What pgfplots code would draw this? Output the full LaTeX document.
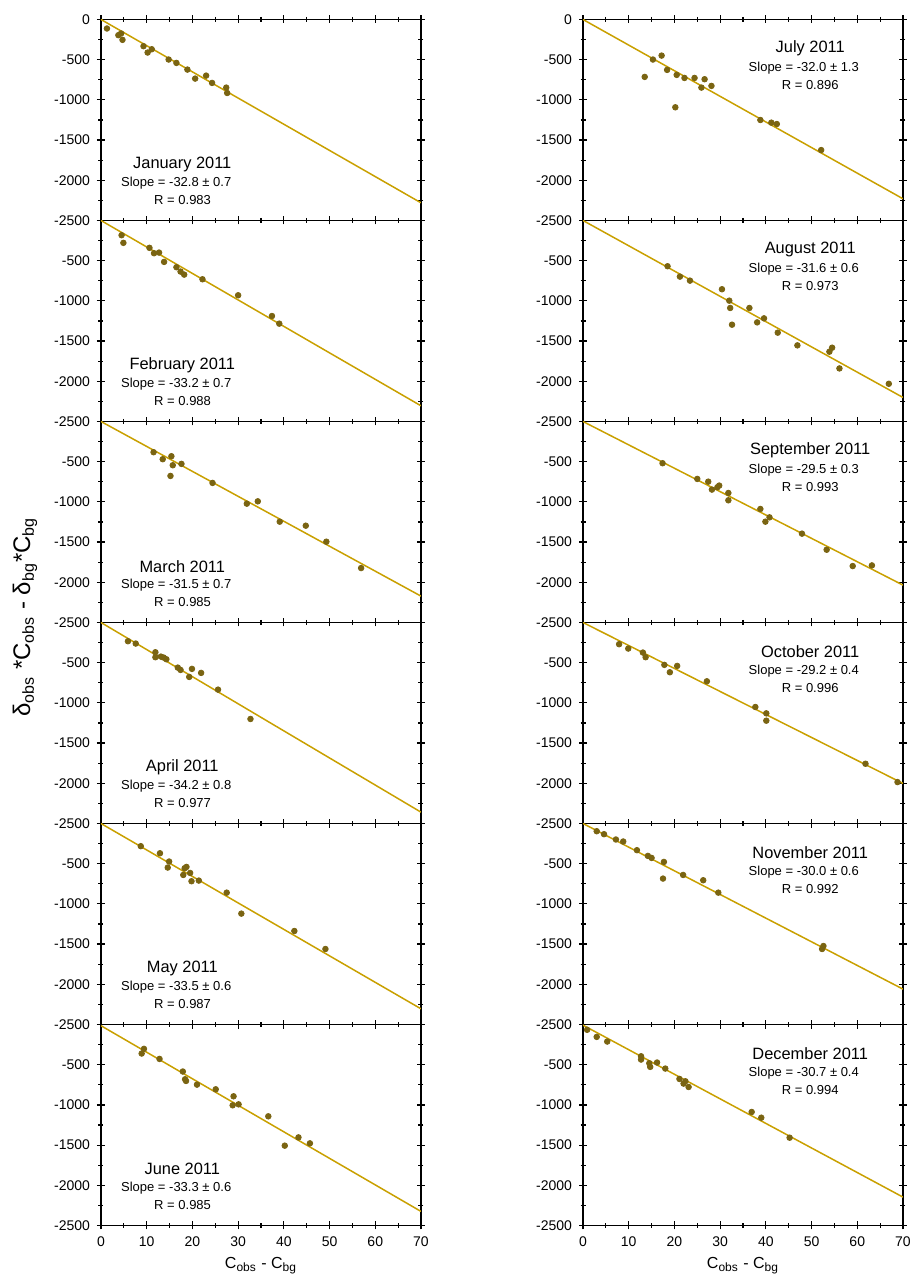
\documentclass[border=0pt]{standalone}
\usepackage{fontspec}
\setmainfont{Liberation Sans}
\usepackage{pgfplots}
\pgfplotsset{compat=1.18}

\definecolor{fitline}{RGB}{201,160,0}
\definecolor{dots}{RGB}{122,100,18}

\pgfplotsset{
  panel/.style={
    scale only axis, width=160pt, height=100.5pt,
    anchor=south west,
    xmin=0, xmax=70, ymin=-2500, ymax=0,
    xtick={0,10,...,70}, minor x tick num=1,
    ytick={-2500,-2000,...,0}, minor y tick num=1,
    xticklabels={},
    yticklabels={-2500,-2000,-1500,-1000,-500,{}},
    tick pos=both, tick align=center,
    major tick length=4pt, minor tick length=2.5pt,
    axis line style={line width=0.8pt},
    every tick/.style={black, line width=0.6pt},
    ticklabel style={font=\fontsize{7}{8}\selectfont},
    xlabel style={font=\fontsize{8}{9}\selectfont, yshift=1.5pt},
  },
  toprow/.style={yticklabels={-2500,-2000,-1500,-1000,-500,0}},
  bottomrow/.style={xticklabels={0,10,20,30,40,50,60,70},
    xlabel={C\textsubscript{obs} - C\textsubscript{bg}}},
  fit/.style={fitline, line width=0.75pt, forget plot},
  pts/.style={only marks, mark=*, mark size=1.4pt, draw=dots, fill=dots,
    mark options={draw=dots, fill=dots}},
}
\newcommand{\lefttext}[3]{%
  \node[font=\fontsize{8.2}{9}\selectfont] at (axis description cs:0.254,0.28) {#1};
  \node[font=\fontsize{6.5}{7}\selectfont] at (axis description cs:0.235,0.185) {#2};
  \node[font=\fontsize{6.5}{7}\selectfont] at (axis description cs:0.255,0.10) {#3};}
\newcommand{\righttext}[3]{%
  \node[font=\fontsize{8.2}{9}\selectfont] at (axis description cs:0.71,0.856) {#1};
  \node[font=\fontsize{6.5}{7}\selectfont] at (axis description cs:0.69,0.76) {#2};
  \node[font=\fontsize{6.5}{7}\selectfont] at (axis description cs:0.71,0.673) {#3};}

\begin{document}
\begin{tikzpicture}
\useasboundingbox (0,0) rectangle (457pt,641pt);

% left column
\begin{axis}[panel, toprow, at={(50.5pt,530.75pt)}]
\addplot[fit] coordinates {(0,0) (70,-2280)};
\addplot[pts] coordinates {(1.3,-112) (3.8,-195) (4.4,-174) (4.7,-253) (9.3,-332) (10.2,-411) (11.1,-370) (14.8,-498) (16.5,-540) (18.9,-623) (20.6,-735) (23.0,-698) (24.3,-789) (27.4,-847) (27.6,-914)};
\lefttext{January 2011}{Slope = -32.8 ± 0.7}{R = 0.983}
\end{axis}

\begin{axis}[panel, at={(50.5pt,430.25pt)}]
\addplot[fit] coordinates {(0,0) (70,-2305)};
\addplot[pts] coordinates {(4.5,-183) (4.9,-278) (10.6,-340) (11.6,-407) (12.7,-399) (13.8,-515) (16.5,-581) (17.4,-635) (18.2,-673) (22.2,-731) (30.0,-930) (37.4,-1188) (39.0,-1283)};
\lefttext{February 2011}{Slope = -33.2 ± 0.7}{R = 0.988}
\end{axis}

\begin{axis}[panel, at={(50.5pt,329.75pt)}]
\addplot[fit] coordinates {(0,0) (70,-2172)};
\addplot[pts] coordinates {(11.5,-382) (13.5,-469) (15.4,-432) (15.7,-544) (15.2,-677) (17.6,-527) (24.4,-764) (31.9,-1022) (34.3,-993) (39.1,-1246) (44.8,-1296) (49.3,-1495) (56.9,-1823)};
\lefttext{March 2011}{Slope = -31.5 ± 0.7}{R = 0.985}
\end{axis}

\begin{axis}[panel, at={(50.5pt,229.25pt)}]
\addplot[fit] coordinates {(0,0) (70,-2359)};
\addplot[pts] coordinates {(5.9,-233) (7.6,-262) (11.9,-370) (11.9,-432) (13.1,-424) (13.7,-436) (14.3,-457) (16.8,-561) (17.4,-590) (19.9,-577) (19.3,-677) (21.9,-627) (25.6,-835) (32.7,-1200)};
\lefttext{April 2011}{Slope = -34.2 ± 0.8}{R = 0.977}
\end{axis}

\begin{axis}[panel, at={(50.5pt,128.75pt)}]
\addplot[fit] coordinates {(0,0) (70,-2305)};
\addplot[pts] coordinates {(8.7,-282) (12.9,-370) (14.9,-473) (14.6,-548) (18.3,-556) (18.7,-540) (18.0,-640) (19.5,-615) (19.8,-718) (21.4,-710) (27.5,-860) (30.7,-1121) (42.3,-1337) (49.1,-1561)};
\lefttext{May 2011}{Slope = -33.5 ± 0.6}{R = 0.987}
\end{axis}

\begin{axis}[panel, bottomrow, at={(50.5pt,28.25pt)}]
\addplot[fit] coordinates {(0,-15) (70,-2325)};
\addplot[pts] coordinates {(8.9,-361) (9.4,-303) (12.8,-428) (17.9,-585) (18.4,-681) (18.6,-702) (21.0,-748) (25.1,-806) (29.0,-893) (28.8,-1005) (30.1,-993) (36.6,-1142) (40.2,-1507) (43.2,-1404) (45.7,-1478)};
\lefttext{June 2011}{Slope = -33.3 ± 0.6}{R = 0.985}
\end{axis}

% right column
\begin{axis}[panel, toprow, at={(291.5pt,530.75pt)}]
\addplot[fit] coordinates {(0,0) (70,-2230)};
\addplot[pts] coordinates {(13.5,-714) (15.3,-498) (17.2,-449) (18.4,-627) (20.5,-689) (20.2,-1092) (22.2,-727) (24.4,-727) (25.9,-847) (26.6,-743) (28.1,-826) (38.8,-1250) (41.2,-1283) (42.4,-1300) (52.1,-1624)};
\righttext{July 2011}{Slope = -32.0 ± 1.3}{R = 0.896}
\end{axis}

\begin{axis}[panel, at={(291.5pt,430.25pt)}]
\addplot[fit] coordinates {(0,0) (70,-2201)};
\addplot[pts] coordinates {(18.5,-569) (21.2,-698) (23.4,-748) (30.4,-855) (32.0,-997) (32.2,-1088) (32.6,-1296) (36.4,-1088) (38.1,-1267) (39.6,-1217) (42.6,-1395) (46.9,-1553) (53.9,-1632) (54.5,-1582) (56.1,-1840) (66.9,-2031)};
\righttext{August 2011}{Slope = -31.6 ± 0.6}{R = 0.973}
\end{axis}

\begin{axis}[panel, at={(291.5pt,329.75pt)}]
\addplot[fit] coordinates {(0,0) (70,-2035)};
\addplot[pts] coordinates {(17.4,-519) (25.0,-714) (27.4,-748) (28.2,-847) (29.4,-818) (29.8,-797) (31.8,-889) (31.8,-980) (38.8,-1088) (39.9,-1246) (40.8,-1192) (47.9,-1395) (53.3,-1595) (59.0,-1798) (63.2,-1790)};
\righttext{September 2011}{Slope = -29.5 ± 0.3}{R = 0.993}
\end{axis}

\begin{axis}[panel, at={(291.5pt,229.25pt)}]
\addplot[fit] coordinates {(0,0) (70,-2002)};
\addplot[pts] coordinates {(7.9,-270) (9.9,-324) (13.1,-374) (13.7,-432) (17.8,-527) (19.0,-619) (20.6,-540) (27.1,-731) (37.7,-1051) (40.1,-1130) (40.1,-1221) (61.8,-1757) (68.8,-1985)};
\righttext{October 2011}{Slope = -29.2 ± 0.4}{R = 0.996}
\end{axis}

\begin{axis}[panel, at={(291.5pt,128.75pt)}]
\addplot[fit] coordinates {(0,0) (70,-2060)};
\addplot[pts] coordinates {(3.0,-96) (4.6,-133) (7.2,-199) (8.8,-224) (11.8,-332) (14.2,-403) (15.0,-428) (17.7,-478) (17.5,-685) (21.9,-640) (26.3,-706) (29.6,-860) (52.3,-1561) (52.6,-1524)};
\righttext{November 2011}{Slope = -30.0 ± 0.6}{R = 0.992}
\end{axis}

\begin{axis}[panel, bottomrow, at={(291.5pt,28.25pt)}]
\addplot[fit] coordinates {(0,-8) (70,-2147)};
\addplot[pts] coordinates {(0.9,-66) (3.0,-154) (5.3,-212) (12.7,-395) (12.7,-436) (14.5,-482) (14.7,-527) (16.2,-473) (18.0,-548) (21.1,-677) (22.0,-735) (22.4,-706) (23.1,-777) (36.9,-1088) (39.0,-1159) (45.2,-1408)};
\righttext{December 2011}{Slope = -30.7 ± 0.4}{R = 0.994}
\end{axis}

\node[rotate=90, font=\fontsize{12}{14}\selectfont] at (12.5pt,332.5pt)
  {δ\textsubscript{obs} *C\textsubscript{obs} - δ\textsubscript{bg}*C\textsubscript{bg}};
\end{tikzpicture}
\end{document}
